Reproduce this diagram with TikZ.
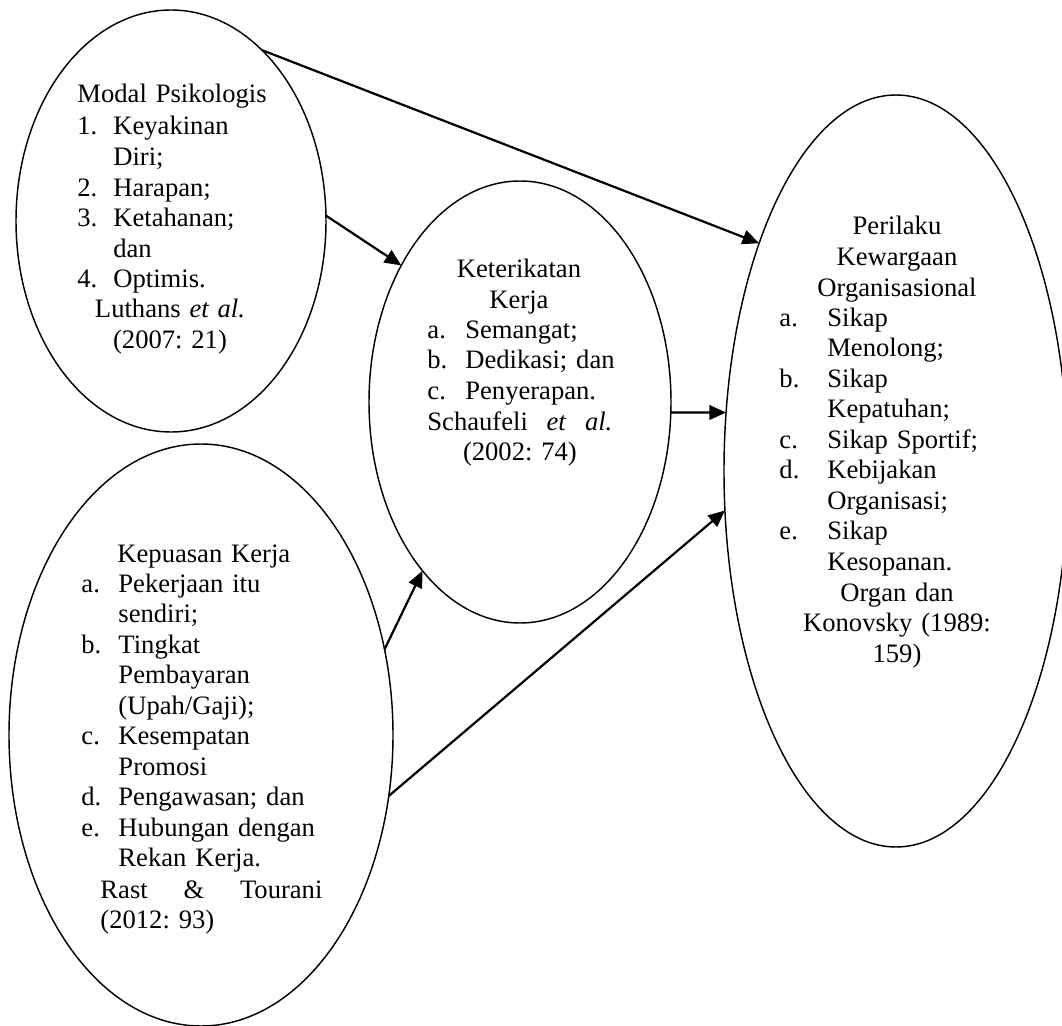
\documentclass[tikz,border=0pt]{standalone}
\usepackage{fontspec}
\setmainfont{Liberation Serif}
\usepackage{tikz}
\usetikzlibrary{shapes.geometric, arrows.meta}

\frenchspacing
\newcommand{\px}{0.451pt}
\newlength{\lblw}
\newcommand{\lab}[1]{\makebox[\lblw][l]{#1}}

\tikzset{
    bubble/.style={draw, ellipse, line width=0.65pt, inner sep=0pt, outer sep=0pt},
    txt/.style={inner sep=0pt, text width=#1, align=left,
        font=\fontsize{12pt}{13.76pt}\selectfont},
    ctxt/.style={txt=#1, align=center},
    conn/.style={->, line width=1pt}
}

\begin{document}
\begin{tikzpicture}[x=\px, y=-\px, >={Triangle[length=7.5pt, width=6.5pt]}]
    \useasboundingbox (0,0) rectangle (1062,1026);

    % Elips variabel
    \node[bubble, minimum width=310*\px, minimum height=422*\px] (modal) at (171,221) {};
    \node[bubble, minimum width=302*\px, minimum height=442*\px] (ket) at (520,402) {};
    \node[bubble, minimum width=384*\px, minimum height=582*\px] (kep) at (201,735) {};
    \node[bubble, minimum width=344*\px, minimum height=752*\px] (per) at (896,471) {};

    % Modal Psikologis
    \node[txt=120pt, anchor=base west] (modalhd) at (77,103) {Modal Psikologis};
    \node[txt=120pt, anchor=base west] (modalls) at (77,135) {\setlength{\lblw}{16.2pt}%
        \lab{1.}Keyakinan\\\lab{}Diri;\\\lab{2.}Harapan;\\\lab{3.}Ketahanan;\\%
        \lab{}dan\\\lab{4.}Optimis.};
    \node[ctxt=120pt, anchor=base] (modalref) at (170,318) {Luthans \textit{et al.}\\(2007: 21)};

    % Keterikatan Kerja
    \node[ctxt=120pt, anchor=base] (kethd) at (519,278) {Keterikatan\\Kerja};
    \node[txt=120pt, anchor=base west] (ketls) at (427,338) {\setlength{\lblw}{17.1pt}%
        \lab{a.}Semangat;\\\lab{b.}Dedikasi; dan\\\lab{c.}Penyerapan.};
    \node[txt=83.4pt, anchor=base west] (ketref) at (427,430)
        {Schaufeli\hfill\textit{et}\hfill\textit{al.}\\\makebox[\linewidth][c]{(2002: 74)}};

    % Kepuasan Kerja
    \node[txt=120pt, anchor=base west] (kephd) at (117,562) {Kepuasan Kerja};
    \node[txt=150pt, anchor=base west] (kepls) at (81,592) {\setlength{\lblw}{16.7pt}%
        \lab{a.}Pekerjaan itu\\\lab{}sendiri;\\\lab{b.}Tingkat\\\lab{}Pembayaran\\%
        \lab{}(Upah/Gaji);\\\lab{c.}Kesempatan\\\lab{}Promosi\\%
        \lab{d.}Pengawasan; dan\\\lab{e.}Hubungan dengan\\\lab{}Rekan Kerja.};
    \node[txt=100.1pt, anchor=base west] (kepref) at (100,898) {Rast\hfill\&\hfill Tourani\\(2012: 93)};

    % Perilaku Kewargaan Organisasional
    \node[ctxt=150pt, anchor=base] (perhd) at (897,235) {Perilaku\\Kewargaan\\Organisasional};
    \node[txt=120pt, anchor=base west] (perls) at (779,326) {\setlength{\lblw}{21.6pt}%
        \lab{a.}Sikap\\\lab{}Menolong;\\\lab{b.}Sikap\\\lab{}Kepatuhan;\\%
        \lab{c.}Sikap Sportif;\\\lab{d.}Kebijakan\\\lab{}Organisasi;\\%
        \lab{e.}Sikap\\\lab{}Kesopanan.};
    \node[ctxt=120pt, anchor=base] (perref) at (897,601) {Organ dan\\Konovsky (1989:\\159)};

    % Panah
    \draw[conn] (modal.62) -- (per.121.2);
    \draw[conn] (modal.2.9) -- (ket.131.6);
    \draw[conn] (ket.356) -- (per.161.5);
    \draw[conn] (kep.25.5) -- (ket.240.1);
    \draw[conn] (kep.342.7) -- (per.193.3);
\end{tikzpicture}
\end{document}
